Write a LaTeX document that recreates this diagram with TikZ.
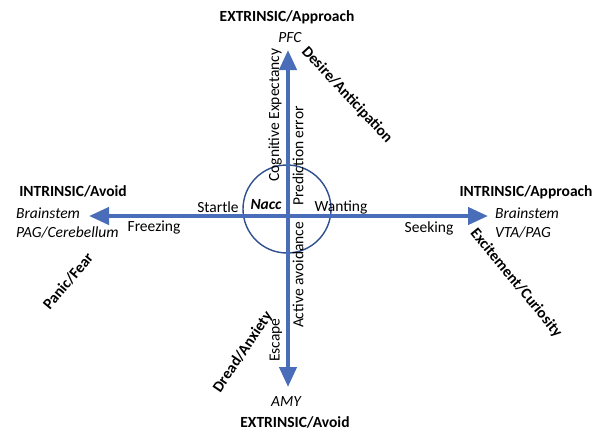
\documentclass[tikz,border=0pt]{standalone}
\usepackage{fontspec}
\setmainfont{Carlito}
\usetikzlibrary{arrows.meta}
\definecolor{arrowblue}{HTML}{4A6DBA}
\definecolor{ringblue}{HTML}{2F4F8F}
\tikzset{
  axis/.style={draw=arrowblue, line width=4.2pt, {Triangle[length=20pt,width=17pt]}-{Triangle[length=20pt,width=17pt]}},
  txt/.style={inner sep=0pt, font=\fontsize{15.5}{18}\selectfont},
  btxt/.style={txt, font=\fontsize{15.5}{18}\selectfont\bfseries},
  itxt/.style={txt, font=\fontsize{15.5}{18}\selectfont\itshape},
  ltxt/.style={txt, align=left, font=\fontsize{15.5}{19}\selectfont\itshape, anchor=north west},
}
\begin{document}
\begin{tikzpicture}[x=1pt,y=-1pt]
\useasboundingbox (0,0) rectangle (602,431);
% axes
\coordinate (top) at (288,50);
\coordinate (bot) at (288,387);
\coordinate (lft) at (89,216);
\coordinate (rgt) at (488,216);
\node[draw=ringblue, line width=1.4pt, circle, minimum size=88pt, inner sep=0pt] (ring) at (287,209) {};
\draw[axis] (bot) -- (top);
\draw[axis] (lft) -- (rgt);
% centre labels
\node[txt, font=\fontsize{15.5}{18}\selectfont\bfseries\itshape] (nacc) at (266,205) {Nacc};
\node[txt] (startle) at (218,207) {Startle};
\node[txt] (wanting) at (341,207) {Wanting};
\node[txt] (freezing) at (154,227) {Freezing};
\node[txt] (seeking) at (429,228) {Seeking};
\node[txt, rotate=90] (cogexp) at (275,115) {Cognitive Expectancy};
\node[txt, rotate=90] (prederr) at (298,156) {Prediction error};
\node[txt, rotate=90] (actav) at (298,275) {Active avoidance};
\node[txt, rotate=90] (escape) at (276,340) {Escape};
% top
\node[btxt] (extapp) at (287,17) {EXTRINSIC/Approach};
\node[itxt] (pfc) at (290,38) {PFC};
\node[btxt, rotate=-47] (desire) at (347,95) {Desire/Anticipation};
% bottom
\node[itxt] (amy) at (286,402) {AMY};
\node[btxt] (extav) at (295,422) {EXTRINSIC/Avoid};
\node[btxt, rotate=56] (dread) at (243,352) {Dread/Anxiety};
% left
\node[btxt] (intav) at (73,191) {INTRINSIC/Avoid};
\node[ltxt] (lbrain) at (16,208) {Brainstem\\PAG/Cerebellum};
\node[btxt, rotate=50] (panic) at (68,281) {Panic/Fear};
% right
\node[btxt] (intapp) at (526,192) {INTRINSIC/Approach};
\node[ltxt] (rbrain) at (495,208) {Brainstem\\VTA/PAG};
\node[btxt, rotate=-50.5] (excite) at (516,283) {Excitement/Curiosity};
\end{tikzpicture}
\end{document}
